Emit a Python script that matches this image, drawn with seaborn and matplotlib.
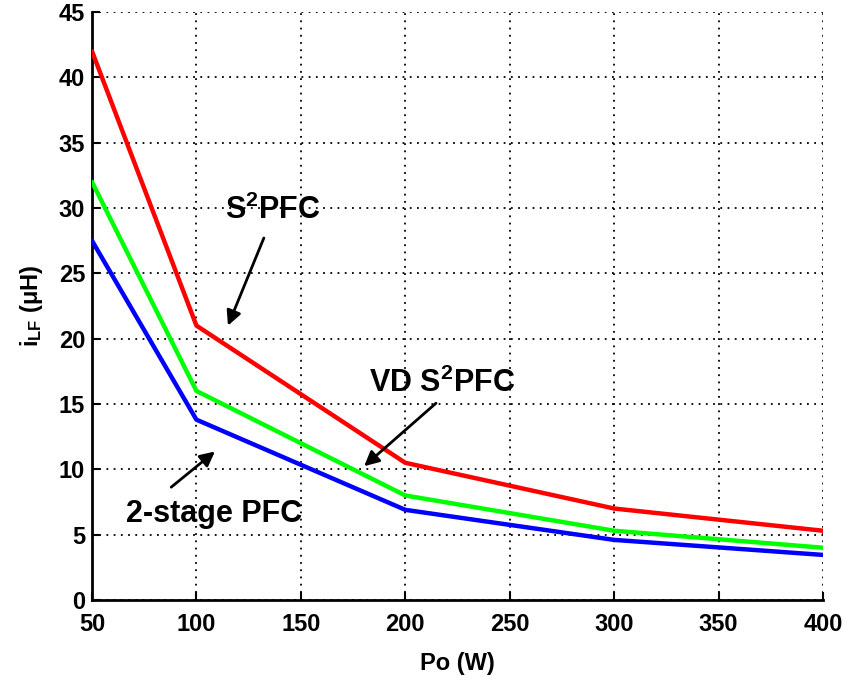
import matplotlib
matplotlib.use("Agg")
import matplotlib.pyplot as plt
import seaborn as sns
import pandas as pd

# Output power (W) and low-frequency inductance values for each topology
power = [50, 100, 200, 300, 400]
s2pfc = [42.0, 21.0, 10.5, 7.0, 5.3]
vd_s2pfc = [32.0, 16.0, 8.0, 5.3, 4.0]
two_stage = [27.5, 13.8, 6.9, 4.6, 3.45]

x_ticks = [50, 100, 150, 200, 250, 300, 350, 400]
y_ticks = [0, 5, 10, 15, 20, 25, 30, 35, 40, 45]

sns.set_theme(style="white")
plt.rcParams["font.family"] = ["Liberation Sans", "DejaVu Sans"]
plt.rcParams["font.weight"] = "bold"
plt.rcParams["text.color"] = "black"
plt.rcParams["axes.labelcolor"] = "black"
plt.rcParams["xtick.color"] = "black"
plt.rcParams["ytick.color"] = "black"
plt.rcParams["mathtext.fontset"] = "custom"
plt.rcParams["mathtext.rm"] = "Liberation Sans:bold"
plt.rcParams["mathtext.bf"] = "Liberation Sans:bold"
plt.rcParams["mathtext.it"] = "Liberation Sans:bold"

df = pd.DataFrame({
    "Po": power * 3,
    "L": s2pfc + vd_s2pfc + two_stage,
    "topology": ["S2PFC"] * 5 + ["VD S2PFC"] * 5 + ["2-stage PFC"] * 5,
})

fig = plt.figure(figsize=(8.54, 6.84), dpi=100)
ax = fig.add_axes([0.1077, 0.1228, 0.856, 0.8597])

sns.lineplot(data=df, x="Po", y="L", hue="topology",
             palette={"S2PFC": "#ff0000", "VD S2PFC": "#00ff00", "2-stage PFC": "#0000ff"},
             linewidth=3.2, legend=False, ax=ax, zorder=3)

ax.set_xlim(50, 400)
ax.set_ylim(0, 45)
ax.set_xticks(x_ticks)
ax.set_yticks(y_ticks)
ax.set_xticklabels([str(v) for v in x_ticks], fontsize=17, fontweight="bold", color="black")
ax.set_yticklabels([str(v) for v in y_ticks], fontsize=17, fontweight="bold", color="black")
ax.tick_params(direction="in", length=6, width=1.5, color="black",
               left=True, bottom=True)
ax.tick_params(axis="x", pad=9)
ax.tick_params(axis="y", pad=5)

ax.grid(True, color="black", linestyle=(0, (1, 3)), linewidth=1.3)
for side in ("top", "right"):
    ax.spines[side].set_visible(False)
for side in ("left", "bottom"):
    ax.spines[side].set_color("black")
    ax.spines[side].set_linewidth(2)

ax.set_xlabel("Po (W)", fontsize=17, fontweight="bold", labelpad=12, color="black")
ax.set_ylabel(r"i$_{\mathbf{LF}}$ (μH)", fontsize=17, fontweight="bold", labelpad=10,
              color="black")

arrow = dict(arrowstyle="-|>", color="black", lw=2, mutation_scale=22)
ax.annotate("", xy=(114.6, 20.8), xytext=(132.8, 27.9), arrowprops=arrow)
ax.text(136.7, 29.8, r"S$^{\mathbf{2}}$PFC", fontsize=22, fontweight="bold",
        ha="center", va="center", color="black")
ax.annotate("", xy=(179.3, 10.1), xytext=(215.7, 15.2), arrowprops=arrow)
ax.text(217.6, 16.6, r"VD S$^{\mathbf{2}}$PFC", fontsize=22, fontweight="bold",
        ha="center", va="center", color="black")
ax.annotate("", xy=(109.9, 11.5), xytext=(86.9, 8.5), arrowprops=arrow)
ax.text(108.4, 6.6, "2-stage PFC", fontsize=22, fontweight="bold",
        ha="center", va="center", color="black")

fig.savefig("out.png", dpi=100)
